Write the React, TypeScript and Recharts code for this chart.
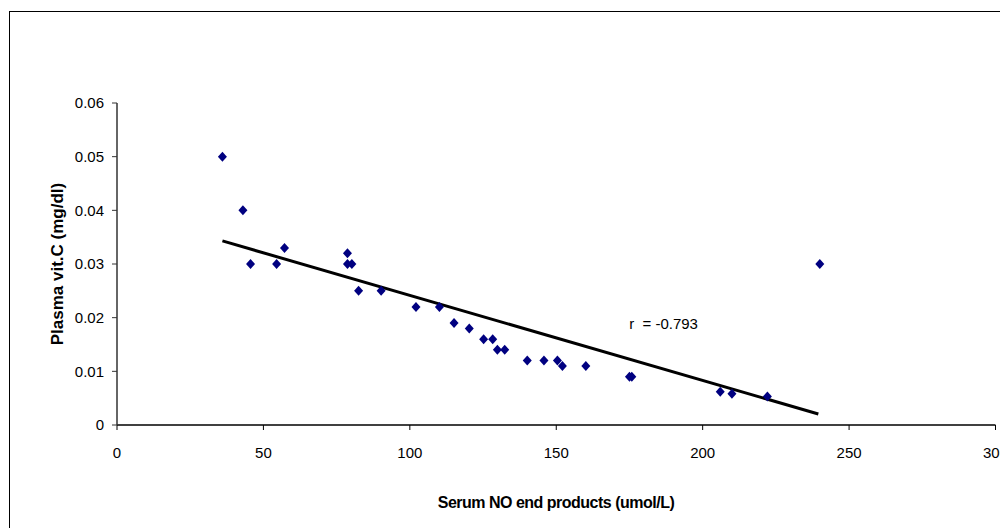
import React from "react";
import {
  ScatterChart, Scatter, XAxis, YAxis, ReferenceLine, ReferenceDot, Label,
} from "recharts";

// values
const noProducts = [36, 43, 45.6, 54.5, 57.2, 78.7, 78.7, 80.2, 82.5, 90.2, 102.1, 110.1, 115.1, 120.3, 125.2, 128.3, 129.9, 132.4, 140.1, 145.8, 150.4, 152.1, 160.1, 175, 175.8, 206, 210, 222.1, 240];
const vitC = [0.05, 0.04, 0.03, 0.03, 0.033, 0.032, 0.03, 0.03, 0.025, 0.025, 0.022, 0.022, 0.019, 0.018, 0.016, 0.016, 0.014, 0.014, 0.012, 0.012, 0.012, 0.011, 0.011, 0.009, 0.009, 0.0062, 0.0058, 0.0053, 0.03];
const xTicks = [0, 50, 100, 150, 200, 250, 300];
const yTicks = [0, 0.01, 0.02, 0.03, 0.04, 0.05, 0.06];
const trendStart = { x: 36, y: 0.0343 };
const trendEnd = { x: 239.5, y: 0.00205 };
const rText = "r\u00a0 = -0.793";
const rAnchor = { x: 174.9, y: 0.019 };

const data = noProducts.map((x, i) => ({ x, y: vitC[i] }));

const FONT = '"Liberation Sans", Arial, sans-serif';

const Diamond = (props: any) => {
  const { cx, cy } = props;
  if (cx == null || cy == null) return null;
  return (
    <polygon
      points={`${cx},${cy - 5} ${cx + 4.5},${cy} ${cx},${cy + 5} ${cx - 4.5},${cy}`}
      fill="#000080"
    />
  );
};

const YTitle = (props: any) => {
  const { viewBox } = props;
  const cx = viewBox.x + 57;
  const cy = viewBox.y + viewBox.height / 2;
  return (
    <text x={cx} y={cy} transform={`rotate(-90 ${cx} ${cy})`} textAnchor="middle"
      dominantBaseline="central" fontFamily={FONT} fontWeight="bold" fontSize={17} fill="#000">
      Plasma vit.C (mg/dl)
    </text>
  );
};

const XTitle = (props: any) => {
  const { viewBox } = props;
  const cx = 556;
  const cy = viewBox.y + 77;
  return (
    <text x={cx} y={cy} textAnchor="middle" dominantBaseline="central" fontFamily={FONT}
      fontWeight="bold" fontSize={16} letterSpacing={-0.5} fill="#000">
      Serum NO end products (umol/L)
    </text>
  );
};

const RLabel = (props: any) => {
  const { viewBox } = props;
  return (
    <text x={viewBox.x} y={viewBox.y} dominantBaseline="central" fontFamily={FONT} fontSize={15} fill="#000">
      {rText}
    </text>
  );
};

export default function App() {
  const tick = { fontSize: 15, fill: "#000", fontFamily: FONT };
  return (
    <div style={{ position: "relative", width: 1000, height: 528, overflow: "hidden", background: "#fff" }}>
      <style>{`body{margin:0;overflow:hidden}`}</style>
      <div style={{
        position: "absolute", left: 9, top: 11, width: 1100, height: 600,
        border: "1.5px solid #000", boxSizing: "border-box",
      }} />
      <div style={{ position: "absolute", left: 0, top: 0 }}>
        <ScatterChart width={1040} height={528} margin={{ top: 103, right: 44.5, bottom: 0, left: 0 }}>
          <XAxis type="number" dataKey="x" domain={[0, 300]} ticks={xTicks} interval={0}
            height={103} tick={tick} tickSize={5} tickMargin={17}
            axisLine={{ stroke: "#000", strokeWidth: 1.5 }} tickLine={{ stroke: "#000" }}>
            <Label content={<XTitle />} />
          </XAxis>
          <YAxis type="number" dataKey="y" domain={[0, 0.06]} ticks={yTicks} interval={0}
            width={117} tick={tick} tickSize={5} tickMargin={8}
            tickFormatter={(v: number) => String(v)}
            axisLine={{ stroke: "#333", strokeWidth: 1.5 }} tickLine={{ stroke: "#333" }}>
            <Label content={<YTitle />} />
          </YAxis>
          <Scatter data={data} shape={<Diamond />} isAnimationActive={false} />
          <ReferenceLine segment={[trendStart, trendEnd]} stroke="#000" strokeWidth={3} ifOverflow="visible" />
          <ReferenceDot x={rAnchor.x} y={rAnchor.y} r={0} fill="none" stroke="none" ifOverflow="visible">
            <Label content={<RLabel />} />
          </ReferenceDot>
        </ScatterChart>
      </div>
    </div>
  );
}
